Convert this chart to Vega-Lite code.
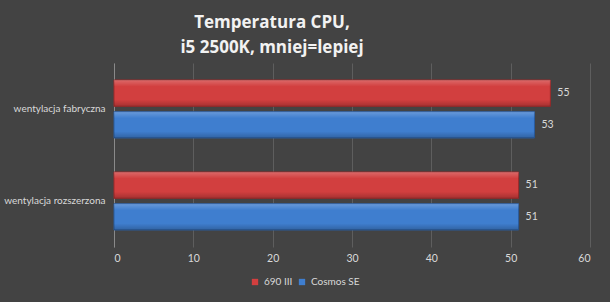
{
  "$schema": "https://vega.github.io/schema/vega-lite/v6.json",
  "width": 476,
  "height": 184,
  "autosize": {"type": "none"},
  "padding": {"left": 114, "top": 63, "right": 20, "bottom": 55},
  "background": "#434343",
  "title": {
    "text": ["Temperatura CPU,", "i5 2500K, mniej=lepiej"],
    "anchor": "middle",
    "dx": -80,
    "font": "Open Sans",
    "fontSize": 17,
    "fontWeight": "bold",
    "color": "#f2f2f2",
    "lineHeight": 25,
    "offset": 6
  },
  "data": {
    "values": [
      {"kategoria": "wentylacja fabryczna", "obudowa": "690 III", "temp": 55},
      {"kategoria": "wentylacja fabryczna", "obudowa": "Cosmos SE", "temp": 53},
      {"kategoria": "wentylacja rozszerzona", "obudowa": "690 III", "temp": 51},
      {"kategoria": "wentylacja rozszerzona", "obudowa": "Cosmos SE", "temp": 51}
    ]
  },
  "encoding": {
    "y": {
      "field": "kategoria",
      "type": "nominal",
      "sort": ["wentylacja fabryczna", "wentylacja rozszerzona"],
      "scale": {"paddingInner": 0.37, "paddingOuter": 0.185},
      "axis": {
        "title": null,
        "domainColor": "#8a8a8a",
        "ticks": false,
        "labelColor": "#d9d9d9",
        "labelFont": "Lato",
        "labelFontSize": 10,
        "labelPadding": 9
      }
    },
    "yOffset": {
      "field": "obudowa",
      "type": "nominal",
      "sort": ["690 III", "Cosmos SE"],
      "scale": {"paddingInner": 0.17, "paddingOuter": 0}
    },
    "x": {
      "field": "temp",
      "type": "quantitative",
      "scale": {"domain": [0, 60], "nice": false},
      "axis": {
        "title": null,
        "values": [0, 10, 20, 30, 40, 50, 60],
        "domain": false,
        "ticks": false,
        "grid": true,
        "gridColor": "#5e5e5e",
        "labelColor": "#d9d9d9",
        "labelFont": "Lato",
        "labelFontSize": 10.5,
        "labelPadding": 6
      }
    }
  },
  "layer": [
    {
      "mark": {"type": "bar", "strokeWidth": 1},
      "encoding": {
        "color": {
          "field": "obudowa",
          "type": "nominal",
          "sort": ["690 III", "Cosmos SE"],
          "scale": {"domain": ["690 III", "Cosmos SE"], "range": ["#d23f3f", "#3f7ecf"]},
          "legend": {
            "title": null,
            "orient": "none",
            "legendX": 136,
            "legendY": 214,
            "direction": "horizontal",
            "symbolType": "square",
            "symbolSize": 40,
            "symbolStrokeWidth": 0,
            "labelColor": "#d9d9d9",
            "labelFont": "Lato",
            "labelFontSize": 10,
            "columnPadding": 4
          }
        },
        "stroke": {
          "field": "obudowa",
          "type": "nominal",
          "scale": {"domain": ["690 III", "Cosmos SE"], "range": ["#9e2a2a", "#2a5c9e"]},
          "legend": null
        }
      }
    },
    {
      "mark": {
        "type": "bar",
        "color": {
          "gradient": "linear",
          "x1": 0, "y1": 0, "x2": 0, "y2": 1,
          "stops": [
            {"offset": 0, "color": "rgba(255,255,255,0.22)"},
            {"offset": 0.25, "color": "rgba(255,255,255,0)"},
            {"offset": 0.75, "color": "rgba(0,0,0,0)"},
            {"offset": 1, "color": "rgba(0,0,0,0.22)"}
          ]
        }
      },
      "encoding": {}
    },
    {
      "mark": {"type": "text", "align": "left", "dx": 7, "color": "#d9d9d9", "font": "Lato", "fontSize": 10.5},
      "encoding": {
        "text": {"field": "temp", "type": "quantitative"}
      }
    }
  ],
  "config": {"view": {"stroke": null}}
}
